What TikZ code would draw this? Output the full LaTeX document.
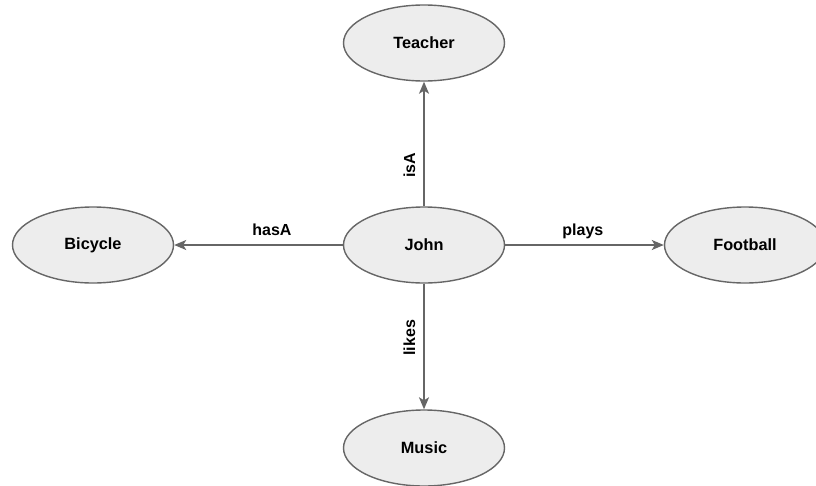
\documentclass[tikz,border=0pt]{standalone}
\usepackage{fontspec}
\setmainfont{Liberation Sans}
\usetikzlibrary{shapes.geometric,arrows.meta}
\definecolor{edgegray}{HTML}{666666}
\definecolor{nodefill}{HTML}{EDEDED}
\begin{document}
\begin{tikzpicture}[x=1pt,y=-1pt,
  concept/.style={ellipse, draw=edgegray, line width=1.4pt, fill=nodefill,
    minimum width=161pt, minimum height=76pt, inner sep=0pt,
    font=\fontsize{16.3}{18}\selectfont\bfseries},
  rel/.style={draw=edgegray, line width=1.5pt,
    -{Stealth[length=12pt, width=10pt, inset=3pt]}},
  lbl/.style={font=\fontsize{16}{18}\selectfont\bfseries, inner sep=0pt, anchor=base}]
  \useasboundingbox (0,0) rectangle (816,485);
  \fill[white] (0,0) rectangle (816,485);

  % concepts
  \node[concept] (teacher)  at (424,43)  {Teacher};
  \node[concept] (john)     at (424,245) {John};
  \node[concept] (bicycle)  at (93,245)  {Bicycle};
  \node[concept] (football) at (745,245) {Football};
  \node[concept] (music)    at (424,448) {Music};

  % relations (vertical labels are rotated, so their shift is along the rotated y axis)
  \draw[rel] (john.north) -- node[lbl, pos=0.33, rotate=90, yshift=9pt] {isA} (teacher.south);
  \draw[rel] (john.south) -- node[lbl, pos=0.43, rotate=90, yshift=9pt] {likes} (music.north);
  \draw[rel] (john.west) -- node[lbl, pos=0.42, yshift=10pt] {hasA} (bicycle.east);
  \draw[rel] (john.east) -- node[lbl, pos=0.49, yshift=10pt] {plays} (football.west);
\end{tikzpicture}
\end{document}
